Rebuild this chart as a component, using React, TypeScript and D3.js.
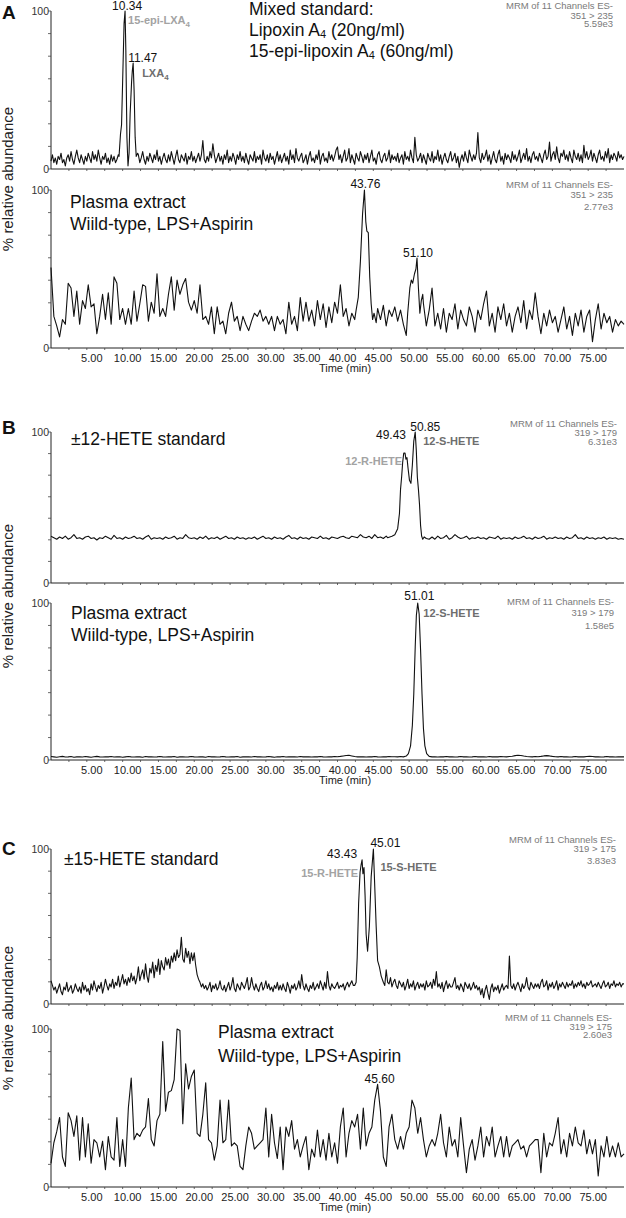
import React from 'react';
import * as d3 from 'd3';

const X_TICK_VALUES = [5, 10, 15, 20, 25, 30, 35, 40, 45, 50, 55, 60, 65, 70, 75];
const X_TICK_LABELS = ['5.00', '10.00', '15.00', '20.00', '25.00', '30.00', '35.00', '40.00', '45.00', '50.00', '55.00', '60.00', '65.00', '70.00', '75.00'];
const Y_TICKS = [0, 14.3, 28.6, 42.9, 57.1, 71.4, 85.7, 100];

// A: 351 > 235, mixed standard (sampled every 0.2 min)
const A1_STEP = 0.2;
const A1_BASE = [
  5, 9, 4, 7, 3, 8, 6, 10, 4, 6, 2, 7, 9, 5, 11, 6, 3, 8, 12, 7,
  4, 9, 6, 3, 8, 5, 10, 7, 4, 11, 6, 9, 5, 12, 7, 3, 8, 6, 10, 4,
  7, 3, 9, 5, 8, 4, 6, 9, 5, 5, 5, 5, 5, 5, 5, 5, 5, 5, 5, 5,
  5, 9, 4, 7, 11, 6, 3, 8, 5, 10, 7, 4, 9, 6, 12, 5, 8, 3, 7, 10,
  6, 4, 9, 5, 11, 7, 3, 8, 12, 6, 4, 9, 7, 5, 10, 3, 8, 6, 11, 5,
  8, 4, 7, 10, 5, 9, 18, 6, 4, 8, 5, 11, 7, 16, 9, 4, 7, 10, 5, 8,
  3, 9, 6, 12, 4, 8, 5, 10, 7, 3, 9, 6, 11, 5, 8, 4, 10, 6, 3, 9,
  7, 5, 11, 4, 8, 6, 9, 3, 12, 7, 5, 9, 4, 10, 6, 8, 3, 7, 11, 5,
  9, 4, 7, 10, 5, 8, 3, 12, 6, 9, 4, 13, 7, 5, 8, 10, 4, 6, 9, 3,
  8, 11, 5, 7, 4, 9, 6, 12, 3, 8, 10, 5, 7, 4, 11, 6, 9, 5, 8, 12,
  14, 6, 9, 4, 8, 12, 5, 7, 13, 4, 9, 6, 3, 10, 7, 5, 11, 8, 4, 9,
  6, 10, 4, 8, 12, 5, 7, 3, 9, 11, 6, 4, 8, 10, 5, 7, 12, 4, 9, 6,
  8, 5, 10, 4, 7, 9, 3, 11, 6, 8, 5, 12, 7, 4, 20, 9, 5, 7, 10, 4,
  9, 6, 3, 10, 7, 5, 11, 4, 8, 6, 12, 5, 9, 3, 7, 10, 6, 4, 8, 11,
  5, 7, 10, 4, 8, 1, 6, 9, 5, 11, 7, 4, 12, 8, 5, 9, 6, 10, 23, 7,
  4, 10, 6, 8, 12, 5, 9, 3, 7, 11, 6, 4, 9, 12, 5, 8, 3, 10, 6, 9,
  7, 4, 11, 6, 9, 5, 8, 12, 4, 7, 10, 6, 13, 5, 8, 4, 9, 11, 6, 8,
  5, 10, 7, 4, 9, 12, 6, 8, 17, 5, 9, 11, 6, 14, 7, 4, 10, 8, 12, 6,
  9, 5, 11, 7, 4, 12, 8, 6, 10, 5, 9, 4, 15, 7, 11, 6, 8, 12, 5, 10,
  7, 4, 9, 12, 6, 8, 5, 11, 7, 13, 4, 9, 6, 10, 8, 5, 11, 7, 9, 6,
  8,
];
const A1_PEAK = [
  [9.5, 8], [9.7, 22], [9.85, 28], [10.0, 55], [10.2, 92], [10.34, 100], [10.45, 75], [10.6, 20],
  [10.75, 2], [10.9, 10], [11.05, 35], [11.25, 55], [11.35, 62], [11.47, 67], [11.6, 50],
  [11.75, 20], [11.9, 8], [12.1, 10],
];

// A: plasma extract (every 0.4 min)
const A2_STEP = 0.4;
const A2_BASE = [
  51, 20, 14, 7, 18, 15, 41, 38, 20, 36,
  15, 30, 25, 40, 26, 28, 9, 20, 34, 18,
  35, 15, 45, 41, 18, 25, 15, 25, 15, 36,
  17, 28, 40, 39, 17, 29, 22, 47, 20, 25,
  20, 34, 45, 24, 43, 34, 40, 44, 29, 24,
  30, 22, 40, 18, 20, 15, 26, 9, 26, 15,
  17, 9, 22, 29, 17, 20, 11, 20, 15, 11,
  17, 22, 20, 24, 17, 20, 15, 20, 11, 20,
  15, 18, 9, 29, 15, 20, 11, 32, 17, 29,
  17, 24, 14, 30, 18, 28, 13, 26, 16, 29,
  22, 40, 20, 25, 14, 22, 18, 30, 60, 95,
  80, 40, 22, 16, 25, 18, 27, 14, 24, 20,
  26, 17, 24, 15, 8, 38, 43, 50, 50, 25,
  28, 14, 24, 38, 14, 22, 12, 25, 10, 22,
  18, 28, 12, 24, 18, 14, 26, 20, 10, 24,
  18, 28, 36, 14, 22, 10, 26, 18, 28, 14,
  22, 10, 20, 26, 16, 30, 12, 24, 18, 35,
  20, 9, 22, 14, 24, 16, 20, 10, 18, 26,
  12, 20, 8, 22, 14, 24, 10, 20, 24, 4,
  18, 28, 12, 22, 16, 20, 10, 18, 14, 17,
  15,
];
const A2_PEAK_1 = [
  [42.6, 24], [42.9, 32], [43.2, 55], [43.5, 85], [43.76, 100], [43.95, 80], [44.1, 74], [44.3, 73],
  [44.5, 45], [44.7, 28], [44.9, 18], [45.1, 22], [45.4, 16],
];
const A2_PEAK_2 = [
  [49.6, 8], [49.8, 22], [50.1, 38], [50.3, 43], [50.5, 41], [50.75, 47], [50.95, 50], [51.1, 57],
  [51.3, 38], [51.5, 22], [51.7, 30], [51.9, 34],
];

// B: 319 > 179, ±12-HETE standard (every 0.4 min)
const B1_STEP = 0.4;
const B1_BASE = [
  31, 30, 29, 30.5, 29.5, 31, 29, 30, 32, 29.5,
  30, 29, 30.5, 31, 29.5, 30, 28.5, 30, 29.5, 31,
  30, 29, 31.5, 29.5, 30, 29, 30.5, 29.5, 30, 31,
  29.5, 30, 29, 30.5, 31.5, 29, 30, 29.5, 30, 29,
  30.5, 29.5, 30, 31, 29, 30, 29.5, 32, 30, 29.5,
  30, 29, 30.5, 29.5, 31, 29, 30, 29.5, 30.5, 29,
  30, 31, 29.5, 30, 29, 30.5, 29.5, 30, 29, 30,
  29.5, 30.5, 29, 30, 31, 29.5, 30, 29, 30.5, 29.5,
  30, 29, 30.5, 31.5, 29.5, 30, 29, 30.5, 29.5, 30,
  29, 30.5, 30, 29.5, 31, 29.5, 30, 29, 30.5, 30,
  29.5, 30.5, 31, 30, 29.5, 31, 30.5, 30, 32, 30.5,
  30, 31, 29.5, 32, 30, 30.5, 29.5, 31, 30, 29.5,
  30, 30, 30, 30, 30, 30, 30, 30, 30, 30,
  30, 30, 29, 30.5, 29, 31, 29.5, 30, 31.5, 29,
  30, 32, 30.5, 29.5, 30, 31, 29, 30, 29.5, 30.5,
  29.5, 30, 29, 30.5, 30, 29.5, 31, 29, 30, 29.5,
  30, 29, 30.5, 29.5, 30, 31, 29.5, 30, 29, 30.5,
  29.5, 30, 31, 29, 30, 29.5, 30.5, 29.5, 30, 29,
  30.5, 29.5, 30, 32, 29.5, 30, 29, 30.5, 29.5, 30,
  29, 30, 29.5, 30.5, 29, 30, 29.5, 30, 29, 29.5,
  29,
];
const B1_PEAK = [
  [47.0, 30], [47.6, 31], [48.0, 32], [48.4, 36], [48.65, 46], [48.8, 62], [48.95, 70], [49.1, 80],
  [49.25, 86], [49.43, 86], [49.55, 82], [49.7, 83], [49.85, 76], [50.05, 68], [50.25, 66],
  [50.45, 78], [50.65, 94], [50.85, 100], [51.0, 88], [51.15, 70], [51.3, 62], [51.45, 52],
  [51.6, 38], [51.75, 31], [51.9, 29], [52.1, 30.5], [52.4, 29.5],
];

// B: plasma extract (every 0.4 min)
const B2_STEP = 0.4;
const B2_BASE = [
  2.2, 2, 1.8, 2.1, 2.3, 1.9, 2, 2.2, 1.8, 2,
  2.1, 1.9, 2.2, 2, 1.8, 2.1, 2.3, 2, 1.9, 2.1,
  2, 2.2, 1.9, 2, 2.1, 1.8, 2, 2.2, 2, 1.9,
  2.1, 2, 1.8, 2.2, 2, 2.1, 1.9, 2, 2.2, 2,
  1.9, 2.1, 2, 2.2, 1.8, 2, 2.1, 1.9, 2, 2.2,
  2, 1.9, 2.1, 2, 1.8, 2.2, 2, 2.1, 1.9, 2,
  2.2, 2, 1.9, 2.1, 2, 2.2, 1.8, 2, 2.1, 2,
  1.9, 2.2, 2, 2.1, 1.9, 2, 2.2, 2, 1.8, 2.1,
  2, 2.2, 1.9, 2, 2.1, 2, 1.9, 2.2, 2, 2.1,
  2, 1.9, 2.1, 2, 2.2, 2, 1.9, 2.1, 2, 2.2,
  2.1, 2.3, 2.6, 2.9, 3, 2.6, 2.2, 2, 2.1, 2,
  1.9, 2.1, 2, 2.2, 2, 1.9, 2.1, 2, 2.2, 2.1,
  2.1, 2, 2.2, 2, 2, 2, 2, 2, 2, 2,
  2, 2, 2, 2.2, 2, 1.9, 2.1, 2, 2.2, 2,
  2.1, 1.9, 2, 2.2, 2, 2.1, 1.9, 2, 2.2, 2,
  2.1, 2, 1.9, 2.2, 2, 2.1, 2, 2.2, 2.1, 2,
  2.2, 2.4, 2.8, 3, 2.9, 2.5, 2.2, 2.1, 2, 2.2,
  2.1, 2.3, 2.6, 2.8, 2.6, 2.3, 2.1, 2, 2.2, 2,
  2.1, 1.9, 2, 2.2, 2, 2.1, 2, 2.2, 2.4, 2.2,
  2, 2.1, 1.9, 2, 2.2, 2, 2.1, 1.9, 2, 2.1,
  2,
];
const B2_PEAK = [
  [49.2, 2], [49.6, 2.5], [49.9, 4], [50.2, 9], [50.45, 22], [50.65, 42], [50.85, 72], [51.01, 92],
  [51.2, 100], [51.4, 93], [51.6, 70], [51.8, 42], [52.0, 20], [52.2, 9], [52.45, 4], [52.8, 2.3],
  [53.2, 2],
];

// C: 319 > 175, ±15-HETE standard (every 0.2 min)
const C1_STEP = 0.2;
const C1_BASE = [
  15, 12, 9, 11, 7, 10, 13, 8, 6, 11, 9, 14, 8, 10, 12, 7, 9, 13, 10, 8,
  11, 7, 14, 9, 12, 8, 10, 6, 13, 9, 15, 11, 8, 12, 10, 14, 7, 11, 16, 12,
  9, 13, 11, 16, 10, 14, 12, 18, 11, 15, 19, 13, 16, 12, 17, 14, 20, 15, 18, 13,
  17, 24, 15, 19, 22, 16, 26, 18, 14, 23, 20, 27, 17, 25, 21, 29, 19, 28, 24, 22,
  30, 25, 29, 23, 31, 27, 33, 28, 35, 30, 32, 43, 29, 27, 36, 30, 34, 26, 33, 28,
  33, 25, 19, 16, 14, 11, 13, 10, 12, 9, 11, 14, 8, 12, 10, 13, 9, 11, 15, 10,
  9, 12, 8, 11, 14, 9, 12, 17, 10, 8, 13, 11, 9, 14, 12, 10, 13, 17, 9, 11,
  17, 12, 9, 13, 10, 8, 12, 14, 9, 11, 15, 10, 13, 9, 11, 8, 12, 10, 14, 9,
  12, 9, 13, 10, 8, 14, 11, 7, 12, 10, 13, 9, 11, 15, 10, 19, 12, 9, 13, 10,
  8, 12, 10, 14, 9, 11, 13, 10, 15, 12, 9, 14, 10, 21, 12, 9, 13, 11, 10, 12,
  14, 10, 12, 11, 13, 9, 12, 14, 11, 13, 15, 12, 12, 12, 12, 12, 12, 12, 12, 12,
  12, 12, 12, 12, 12, 12, 12, 12, 12, 12, 12, 12, 12, 12, 22, 14, 13, 17, 11, 14,
  16, 12, 10, 15, 13, 11, 14, 9, 12, 16, 10, 13, 11, 15, 9, 12, 14, 10, 13, 11,
  13, 9, 15, 11, 12, 14, 10, 16, 12, 21, 11, 13, 10, 14, 8, 12, 15, 10, 13, 11,
  11, 14, 17, 10, 12, 9, 13, 11, 8, 14, 12, 10, 13, 9, 11, 14, 10, 12, 9, 11,
  6, 10, 4, 9, 12, 7, 3, 10, 13, 8, 11, 9, 12, 7, 10, 13, 9, 11, 12, 10,
  31, 12, 10, 13, 9, 12, 14, 11, 8, 13, 10, 12, 17, 11, 9, 14, 12, 10, 13, 11,
  13, 10, 14, 16, 11, 12, 15, 9, 13, 11, 14, 10, 12, 15, 9, 13, 11, 14, 12, 10,
  14, 11, 13, 12, 15, 10, 13, 11, 14, 12, 15, 11, 13, 10, 14, 12, 13, 15, 11, 12,
  13, 11, 14, 12, 10, 13, 15, 11, 12, 14, 10, 13, 12, 15, 11, 13, 12, 14, 11, 13,
  13,
];
const C1_PEAK = [
  [42.4, 12], [42.6, 14], [42.75, 30], [42.95, 65], [43.15, 85], [43.3, 90], [43.43, 93], [43.55, 84],
  [43.7, 88], [43.85, 70], [44.0, 45], [44.2, 34], [44.45, 50], [44.7, 82], [45.01, 100], [45.2, 76],
  [45.4, 50], [45.6, 28], [45.85, 24], [46.1, 18], [46.4, 14], [46.6, 12],
];

// C: plasma extract (every 0.4 min)
const C2_STEP = 0.4;
const C2_BASE = [
  15, 28, 35, 44, 19, 13, 47, 42, 32, 45,
  17, 44, 19, 40, 15, 30, 28, 19, 29, 11,
  32, 19, 17, 44, 13, 30, 13, 50, 69, 30,
  34, 32, 36, 38, 56, 30, 26, 42, 46, 92,
  48, 60, 61, 68, 100, 99, 40, 78, 62, 70,
  74, 34, 32, 46, 66, 30, 28, 17, 26, 55,
  28, 30, 55, 26, 28, 26, 13, 11, 26, 38,
  34, 24, 26, 28, 30, 50, 19, 46, 28, 18,
  38, 11, 38, 32, 42, 24, 30, 19, 26, 32,
  11, 24, 19, 36, 19, 30, 17, 34, 19, 28,
  15, 38, 50, 19, 34, 42, 38, 46, 24, 50,
  26, 34, 38, 55, 65, 48, 19, 13, 38, 46,
  30, 24, 32, 24, 34, 38, 55, 50, 34, 44,
  30, 19, 26, 30, 26, 34, 46, 28, 19, 38,
  26, 30, 19, 44, 26, 9, 24, 30, 17, 26,
  38, 19, 32, 26, 38, 19, 26, 32, 19, 32,
  19, 26, 28, 30, 24, 26, 19, 26, 28, 30,
  30, 9, 34, 19, 28, 26, 34, 44, 21, 30,
  19, 34, 26, 38, 28, 26, 36, 21, 30, 21,
  30, 7, 26, 19, 32, 19, 26, 19, 28, 19,
  21,
];

function buildTrace(base: number[], step: number, peaks: number[][][]) {
  const inPeak = (t: number) => peaks.some((pk) => t >= pk[0][0] && t <= pk[pk.length - 1][0]);
  const kept = base.map((v, i) => [Math.round(i * step * 1000) / 1000, v]).filter(([t]) => !inPeak(t));
  return kept.concat(...peaks).sort((a, b) => a[0] - b[0]);
}

const FONT = 'Liberation Sans, Arial, Helvetica, sans-serif';
const W = 626;
const H = 1218;

const x = d3.scaleLinear().domain([0, 80]).range([51, 624]);

type Ann = { text: string; t: number; dx: number; y: number; anchor: string; bold?: boolean; color?: string; sub?: string };

const PANELS = [
  {
    top: 11, bottom: 169, data: buildTrace(A1_BASE, A1_STEP, [A1_PEAK]), xLabels: false,
    mrm: ['MRM of 11 Channels ES-', '351 > 235', '5.59e3'], mrmX: 613, mrmY: [9, 19, 27],
    ann: [
      { text: '10.34', t: 10.34, dx: 2, y: 10, anchor: 'middle' },
      { text: '15-epi-LXA', sub: '4', t: 10.34, dx: 3, y: 24, anchor: 'start', bold: true, color: '#a3a3a3' },
      { text: '11.47', t: 11.47, dx: -5, y: 62, anchor: 'start' },
      { text: 'LXA', sub: '4', t: 11.47, dx: 9, y: 77, anchor: 'start', bold: true, color: '#6e6e6e' },
    ] as Ann[],
  },
  {
    top: 190, bottom: 348, data: buildTrace(A2_BASE, A2_STEP, [A2_PEAK_1, A2_PEAK_2]), xLabels: true,
    mrm: ['MRM of 11 Channels ES-', '351 > 235', '2.77e3'], mrmX: 613, mrmY: [188, 198, 210],
    ann: [
      { text: '43.76', t: 43.76, dx: 1, y: 188, anchor: 'middle' },
      { text: '51.10', t: 51.1, dx: 1, y: 257, anchor: 'middle' },
    ] as Ann[],
  },
  {
    top: 432, bottom: 583, data: buildTrace(B1_BASE, B1_STEP, [B1_PEAK]), xLabels: false,
    mrm: ['MRM of 11 Channels ES-', '319 > 179', '6.31e3'], mrmX: 617, mrmY: [427, 436, 445],
    ann: [
      { text: '50.85', t: 50.85, dx: -5, y: 431, anchor: 'start' },
      { text: '49.43', t: 49.43, dx: 1, y: 439, anchor: 'end' },
      { text: '12-R-HETE', t: 49.43, dx: -3, y: 465, anchor: 'end', bold: true, color: '#a3a3a3' },
      { text: '12-S-HETE', t: 50.85, dx: 8, y: 445, anchor: 'start', bold: true, color: '#6e6e6e' },
    ] as Ann[],
  },
  {
    top: 603, bottom: 760, data: buildTrace(B2_BASE, B2_STEP, [B2_PEAK]), xLabels: true,
    mrm: ['MRM of 11 Channels ES-', '319 > 179', '1.58e5'], mrmX: 614, mrmY: [605, 616, 629],
    ann: [
      { text: '51.01', t: 51.01, dx: 3, y: 600, anchor: 'middle' },
      { text: '12-S-HETE', t: 51.01, dx: 7, y: 617, anchor: 'start', bold: true, color: '#6e6e6e' },
    ] as Ann[],
  },
  {
    top: 849, bottom: 1004, data: buildTrace(C1_BASE, C1_STEP, [C1_PEAK]), xLabels: false,
    mrm: ['MRM of 11 Channels ES-', '319 > 175', '3.83e3'], mrmX: 616, mrmY: [843, 852, 864],
    ann: [
      { text: '43.43', t: 43.43, dx: -5, y: 858, anchor: 'end' },
      { text: '45.01', t: 45.01, dx: -3, y: 847, anchor: 'start' },
      { text: '15-R-HETE', t: 43.43, dx: -4, y: 877, anchor: 'end', bold: true, color: '#a3a3a3' },
      { text: '15-S-HETE', t: 45.01, dx: 7, y: 871, anchor: 'start', bold: true, color: '#6e6e6e' },
    ] as Ann[],
  },
  {
    top: 1029, bottom: 1187, data: buildTrace(C2_BASE, C2_STEP, []), xLabels: true,
    mrm: ['MRM of 11 Channels ES-', '319 > 175', '2.60e3'], mrmX: 612, mrmY: [1021, 1030, 1038],
    ann: [
      { text: '45.60', t: 45.6, dx: 2, y: 1083, anchor: 'middle' },
    ] as Ann[],
  },
];

const TITLES = [
  { lines: ['Mixed standard:', 'Lipoxin A|4| (20ng/ml)', '15-epi-lipoxin A|4| (60ng/ml)'], x: 249, y: [15, 36, 57] },
  { lines: ['Plasma extract', 'Wiild-type, LPS+Aspirin'], x: 70, y: [208, 230] },
  { lines: ['±12-HETE standard'], x: 71, y: [445] },
  { lines: ['Plasma extract', 'Wiild-type, LPS+Aspirin'], x: 71, y: [619, 641] },
  { lines: ['±15-HETE standard'], x: 64, y: [865] },
  { lines: ['Plasma extract', 'Wiild-type, LPS+Aspirin'], x: 218, y: [1038, 1062] },
];

const LETTERS = [
  { text: 'A', y: 19 },
  { text: 'B', y: 434 },
  { text: 'C', y: 855 },
];
const YLABEL_CENTERS = [179, 596, 1018];

function TitleLine({ s, x, y }: { s: string; x: number; y: number }) {
  const parts = s.split('|');
  return (
    <text x={x} y={y} fontSize={17.5} fill="#111">
      {parts.map((p, i) =>
        i % 2 === 1 ? (
          <tspan key={i} fontSize={11} dy={2}>{p}</tspan>
        ) : (
          <tspan key={i} dy={i > 0 ? -2 : 0}>{p}</tspan>
        )
      )}
    </text>
  );
}

function Panel({ p }: { p: (typeof PANELS)[number] }) {
  const y = d3.scaleLinear().domain([0, 100]).range([p.bottom, p.top]);
  const line = d3.line<number[]>().x((d) => x(d[0])).y((d) => y(d[1]));
  const minor = d3.range(2.5, 80, 2.5);
  return (
    <g>
      <line x1={x(0)} x2={x(80)} y1={p.bottom} y2={p.bottom} stroke="#222" strokeWidth={1} />
      {minor.map((t) => (
        <line key={t} x1={x(t)} x2={x(t)} y1={p.bottom} y2={p.bottom + 2} stroke="#444" strokeWidth={0.8} />
      ))}
      <line x1={x(0)} x2={x(0)} y1={p.bottom} y2={p.top} stroke="#222" strokeWidth={1} />
      {Y_TICKS.map((v) => (
        <line key={v} x1={x(0) - 3} x2={x(0)} y1={y(v)} y2={y(v)} stroke="#444" strokeWidth={0.8} />
      ))}
      <text x={x(0) - 2} y={y(100) + 4} fontSize={10.5} textAnchor="end" fill="#333">100</text>
      <text x={x(0) - 2} y={y(0) + 4} fontSize={10.5} textAnchor="end" fill="#333">0</text>
      {p.xLabels &&
        X_TICK_VALUES.map((t, i) => (
          <text key={t} x={x(t) + 5} y={p.bottom + 14} fontSize={11} textAnchor="middle" fill="#222">
            {X_TICK_LABELS[i]}
          </text>
        ))}
      {p.xLabels && (
        <text x={345} y={p.bottom + 24} fontSize={11} textAnchor="middle" fill="#222">Time (min)</text>
      )}
      <path d={line(p.data) || ''} fill="none" stroke="#111" strokeWidth={1.1} strokeLinejoin="round" />
      {p.mrm.map((s, i) => (
        <text key={i} x={p.mrmX} y={p.mrmY[i]} fontSize={9.5} textAnchor="end" fill="#7a7a7a">{s}</text>
      ))}
      {p.ann.map((a, i) => (
        <text
          key={i}
          x={x(a.t) + a.dx}
          y={a.y}
          fontSize={a.bold ? 11 : 12}
          fontWeight={a.bold ? 'bold' : 'normal'}
          textAnchor={a.anchor}
          fill={a.color || '#111'}
        >
          {a.text}
          {a.sub && <tspan fontSize={8} dy={3}>{a.sub}</tspan>}
        </text>
      ))}
    </g>
  );
}

export default function App() {
  return (
    <div style={{ position: 'absolute', left: 0, top: 0 }}>
      <svg width={W} height={H} style={{ display: 'block', background: '#fff', fontFamily: FONT }}>
        {PANELS.map((p, i) => (
          <Panel key={i} p={p} />
        ))}
        {TITLES.map((tt, i) =>
          tt.lines.map((s, j) => <TitleLine key={`${i}-${j}`} s={s} x={tt.x} y={tt.y[j]} />)
        )}
        {LETTERS.map((l) => (
          <text key={l.text} x={2} y={l.y} fontSize={19} fontWeight="bold" fill="#111">{l.text}</text>
        ))}
        {YLABEL_CENTERS.map((c) => (
          <text key={c} transform={`translate(13,${c}) rotate(-90)`} fontSize={15} textAnchor="middle" fill="#222">
            % relative abundance
          </text>
        ))}
      </svg>
    </div>
  );
}
